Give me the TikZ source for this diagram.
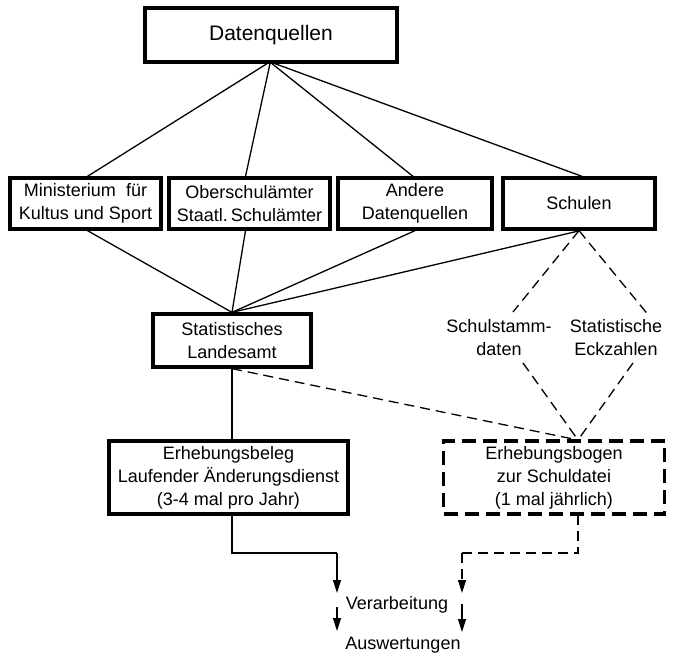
\documentclass[tikz,border=0pt]{standalone}
\usepackage{fontspec}
\setmainfont{Liberation Sans}
\usetikzlibrary{arrows.meta,calc}

\tikzset{
  box/.style={draw, line width=3.3pt, inner sep=0pt, align=center,
              font=\fontsize{18}{23}\selectfont},
  dbox/.style={box, dash pattern=on 14pt off 7pt, line width=3.5pt},
  conn/.style={line width=1.3pt},
  dconn/.style={line width=1.3pt, dash pattern=on 10pt off 6pt},
  lbl/.style={inner sep=2pt, align=center, font=\fontsize{18}{23}\selectfont},
  flow/.style={line width=1.3pt, -{Triangle[length=13pt,width=8pt]}},
}

\begin{document}
\begin{tikzpicture}[x=1pt, y=-1pt]
  \useasboundingbox (0,0) rectangle (678,659);

  % top level
  \node[box, minimum width=252pt, minimum height=54pt,
        font=\fontsize{21}{25}\selectfont] (dq) at (271,35) {Datenquellen};

  % data sources
  \node[box, minimum width=151pt, minimum height=51pt] (min) at (85.5,203.5)
       {Ministerium\hspace{0.3em} für\\Kultus und Sport};
  \node[box, minimum width=161pt, minimum height=51pt] (obs) at (249.5,203.5)
       {Oberschulämter\\Staatl.\,Schulämter};
  \node[box, minimum width=154pt, minimum height=51pt] (and) at (415,203.5)
       {Andere\\Datenquellen};
  \node[box, minimum width=152pt, minimum height=51pt] (sch) at (579,203.5)
       {Schulen};

  % collecting office
  \node[box, minimum width=158pt, minimum height=53pt] (sla) at (232,340.5)
       {Statistisches\\Landesamt};

  % survey forms
  \node[box, minimum width=239pt, minimum height=73pt] (beleg) at (228.5,477.5)
       {Erhebungsbeleg\\Laufender Änderungsdienst\\(3-4 mal pro Jahr)};
  \node[dbox, minimum width=221pt, minimum height=73pt] (bogen) at (554,477.5)
       {Erhebungsbogen\\zur Schuldatei\\(1 mal jährlich)};

  % data kinds delivered by the schools
  \node[lbl] (stamm) at (499,338) {Schulstamm-\\daten};
  \node[lbl] (eck) at (616,338) {Statistische\\Eckzahlen};

  % processing
  \node[lbl, inner sep=0pt] (verarb) at (397,605) {Verarbeitung};
  \node[lbl, inner sep=0pt] (ausw) at (403,645) {Auswertungen};

  % helper points
  \coordinate (stA) at (513,312);
  \coordinate (stB) at (523,363);
  \coordinate (ecA) at (650,317);
  \coordinate (ecB) at (633,363);
  \coordinate (bt) at (578,440);
  \coordinate (bb) at (578,515);
  \coordinate (lk1) at (232,553);
  \coordinate (lk2) at (337,553);
  \coordinate (lt1) at (337,593);
  \coordinate (ls2) at (337,607);
  \coordinate (lt2) at (337,631);
  \coordinate (rk1) at (578,553);
  \coordinate (rk2) at (462,553);
  \coordinate (rt1) at (462,593);
  \coordinate (rs2) at (462,604);
  \coordinate (rt2) at (462,632);

  % Datenquellen -> sources
  \draw[conn] ($(dq.south)+(-4,0)$) -- ($(min.north)+(2,0)$);
  \draw[conn] ($(dq.south)+(-1,0)$) -- ($(obs.north)+(-4,0)$);
  \draw[conn] ($(dq.south)+(1,0)$) -- ($(and.north)+(-2,0)$);
  \draw[conn] ($(dq.south)+(4,0)$) -- ($(sch.north)+(3,0)$);

  % sources -> Statistisches Landesamt
  \draw[conn] ($(min.south)+(2,0)$) -- (sla.north);
  \draw[conn] ($(obs.south)+(-4,0)$) -- (sla.north);
  \draw[conn] (and.south) -- (sla.north);
  \draw[conn] ($(sch.south)+(1,0)$) -- (sla.north);

  % Schulen -> Erhebungsbogen via the two data kinds
  \draw[dconn] (sch.south) -- (stA);
  \draw[dconn] (sch.south) -- (ecA);
  \draw[dconn] (stB) -- (bt);
  \draw[dconn] (ecB) -- (bt);

  % Landesamt -> forms
  \draw[conn] (sla.south) -- (sla.south |- beleg.north);
  \draw[dconn] (sla.south) -- (bt);

  % forms -> processing -> evaluation
  \draw[conn] (lk1 |- beleg.south) -- (lk1) -- (lk2);
  \draw[flow] (lk2) -- (lt1);
  \draw[flow] (ls2) -- (lt2);
  \draw[dconn] (bb) -- (rk1) -- (rk2);
  \draw[flow, dash pattern=on 10pt off 6pt] (rk2) -- (rt1);
  \draw[flow] (rs2) -- (rt2);
\end{tikzpicture}
\end{document}
